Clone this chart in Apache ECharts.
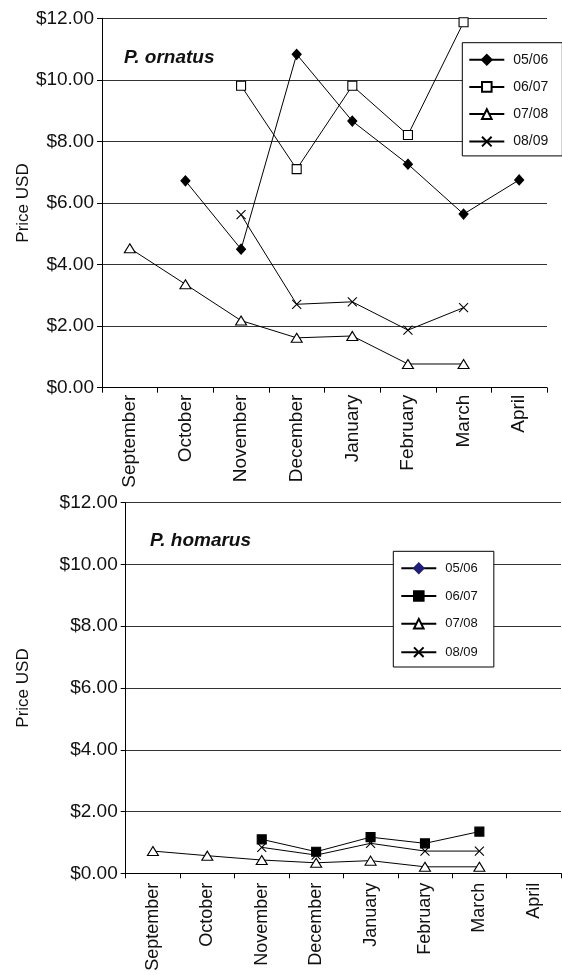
<!DOCTYPE html>
<html>
<head>
<meta charset="utf-8">
<script src="https://cdn.jsdelivr.net/npm/echarts@6/dist/echarts.min.js"></script>
<style>
  html, body { margin: 0; padding: 0; background: #fff; }
  #chart { width: 562px; height: 975px; }
</style>
</head>
<body>
<div id="chart"></div>
<script>
// Months of the fishing season (x axis)
const months = ['September', 'October', 'November', 'December', 'January', 'February', 'March', 'April'];
const seasons = ['05/06', '06/07', '07/08', '08/09'];

// Price axis (USD)
const priceMin = 0;
const priceMax = 12;
const priceStep = 2;

// P. ornatus monthly prices per season
const ornatus0506 = [null, 6.72, 4.50, 10.83, 8.66, 7.26, 5.64, 6.75];
const ornatus0607 = [null, null, 9.81, 7.10, 9.81, 8.21, 11.87, null];
const ornatus0708 = [4.53, 3.36, 2.18, 1.62, 1.68, 0.77, 0.77, null];
const ornatus0809 = [null, null, 5.62, 2.71, 2.79, 1.87, 2.60, null];

// P. homarus monthly prices per season
const homarus0506 = [null, null, null, null, null, null, null, null];
const homarus0607 = [null, null, 1.10, 0.70, 1.17, 0.97, 1.35, null];
const homarus0708 = [0.72, 0.57, 0.43, 0.34, 0.41, 0.21, 0.21, null];
const homarus0809 = [null, null, 0.84, 0.59, 0.97, 0.72, 0.72, null];

const FONT = '"Liberation Sans", Arial, Helvetica, sans-serif';
const INK = '#111';
const CROSS = 'path://M0,0L10,10M10,0L0,10';

// marker looks per season, one set for each species panel
const ornatusMarks = [
  { symbol: 'diamond', size: [9, 10], fill: '#000', stroke: '#000' },
  { symbol: 'rect', size: 9, fill: '#fff', stroke: '#000' },
  { symbol: 'triangle', size: [11, 9], fill: '#fff', stroke: '#000' },
  { symbol: CROSS, size: 9, fill: 'none', stroke: '#000' }
];
const homarusMarks = [
  { symbol: 'diamond', size: [9, 10], fill: '#1f1f78', stroke: '#1f1f78' },
  { symbol: 'rect', size: 9, fill: '#000', stroke: '#000' },
  { symbol: 'triangle', size: [11, 9], fill: '#fff', stroke: '#000' },
  { symbol: CROSS, size: 9, fill: 'none', stroke: '#000' }
];

function makeSeries(prefix, values, marks, axisIndex) {
  return values.map((vals, i) => ({
    name: prefix + seasons[i],
    type: 'line',
    xAxisIndex: axisIndex,
    yAxisIndex: axisIndex,
    data: vals,
    connectNulls: false,
    symbol: marks[i].symbol,
    symbolSize: marks[i].size,
    showAllSymbol: true,
    lineStyle: { color: '#000', width: 1 },
    itemStyle: { color: marks[i].fill, borderColor: marks[i].stroke, borderWidth: 1.1 },
    emphasis: { disabled: true },
    animation: false
  }));
}

const ornatusPrefix = 'P. ornatus ';
const homarusPrefix = 'P. homarus ';

function xAxisOf(gridIndex, fontSize, margin) {
  return {
    type: 'category',
    gridIndex: gridIndex,
    data: months,
    boundaryGap: true,
    axisLine: { show: true, lineStyle: { color: '#000', width: 1 } },
    axisTick: { show: true, inside: false, length: 5, interval: 0, lineStyle: { color: '#000' } },
    axisLabel: { rotate: 90, interval: 0, margin: margin, fontSize: fontSize, color: INK, fontFamily: FONT },
    splitLine: { show: false }
  };
}

function yAxisOf(gridIndex, nameGap) {
  return {
    type: 'value',
    gridIndex: gridIndex,
    min: priceMin,
    max: priceMax,
    interval: priceStep,
    name: 'Price USD',
    nameLocation: 'middle',
    nameGap: nameGap,
    nameMoveOverlap: false,
    nameTextStyle: { fontSize: 17, color: INK, fontFamily: FONT },
    axisLine: { show: true, lineStyle: { color: '#000', width: 1 } },
    axisTick: { show: true, inside: false, length: 5, lineStyle: { color: '#000' } },
    axisLabel: {
      margin: 8, fontSize: 19, color: INK, fontFamily: FONT,
      formatter: v => '$' + v.toFixed(2)
    },
    splitLine: { show: true, lineStyle: { color: '#333', width: 1 } }
  };
}

function legendOf(prefix, left, top, fontSize, gap, padding) {
  return {
    orient: 'vertical',
    left: left,
    top: top,
    data: seasons.map(s => prefix + s),
    formatter: name => name.slice(prefix.length),
    itemWidth: 35,
    itemHeight: 12,
    itemGap: gap,
    padding: padding,
    backgroundColor: '#fff',
    borderColor: '#000',
    borderWidth: 1,
    borderRadius: 0,
    selectedMode: false,
    textStyle: { fontSize: fontSize, color: INK, fontFamily: FONT, padding: [0, 0, 0, 4] }
  };
}

const chart = echarts.init(document.getElementById('chart'), null, { renderer: 'canvas' });

chart.setOption({
  backgroundColor: '#fff',
  animation: false,
  textStyle: { fontFamily: FONT },
  title: [
    { text: 'P. ornatus', left: 124, top: 48, padding: 0,
      textStyle: { fontSize: 19, fontWeight: 'bold', fontStyle: 'italic', color: INK, fontFamily: FONT } },
    { text: 'P. homarus', left: 150, top: 531, padding: 0,
      textStyle: { fontSize: 19, fontWeight: 'bold', fontStyle: 'italic', color: INK, fontFamily: FONT } }
  ],
  grid: [
    { left: 102, right: 15, top: 18.3, bottom: 587.3, containLabel: false },
    { left: 125.7, right: 1, top: 502.7, bottom: 101.7, containLabel: false }
  ],
  xAxis: [xAxisOf(0, 19, 7), xAxisOf(1, 18, 9.5)],
  yAxis: [yAxisOf(0, 70), yAxisOf(1, 94)],
  legend: [
    legendOf(ornatusPrefix, 462.3, 42.7, 14, 13.2, [10, 14, 7, 6]),
    legendOf(homarusPrefix, 393.3, 551.3, 13, 14.7, [10.5, 16, 7.5, 7])
  ],
  series: [
    ...makeSeries(ornatusPrefix, [ornatus0506, ornatus0607, ornatus0708, ornatus0809], ornatusMarks, 0),
    ...makeSeries(homarusPrefix, [homarus0506, homarus0607, homarus0708, homarus0809], homarusMarks, 1)
  ]
});
</script>
</body>
</html>
